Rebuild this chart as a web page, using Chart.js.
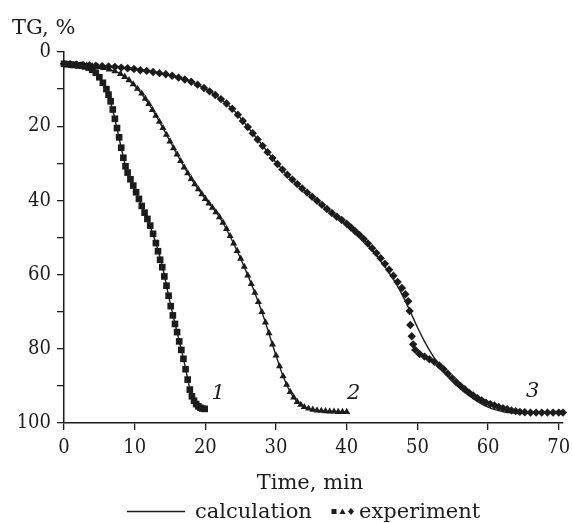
<!DOCTYPE html>
<html lang="en">
<head>
<meta charset="UTF-8">
<title>TG curves</title>
<script src="https://cdn.jsdelivr.net/npm/chart.js"></script>
<style>
  body { margin: 0; background: #fff; }
  #chart { display: block; }
</style>
</head>
<body>
<canvas id="chart" width="572" height="523"></canvas>
<script>
// experiment 1 (squares)
const t1 = [0,0.5,1,1.5,2,2.5,3,3.5,4,4.5,5,5.5,6,6.3,6.6,6.9,7.2,7.5,7.8,8.1,8.4,8.7,9,9.4,9.8,10.2,10.6,11,11.4,11.8,12.2,12.6,13,13.3,13.6,13.9,14.2,14.5,14.8,15.1,15.4,15.7,16,16.3,16.6,16.9,17.2,17.5,17.8,18.1,18.4,18.7,19,19.3,19.6,19.9];
const tg1 = [3.2,3.3,3.4,3.5,3.6,3.7,3.9,4.2,4.8,5.6,6.8,8.3,10,11.5,13.3,15.5,18,20.5,23,25.8,28.5,30.8,32.5,34.3,36,37.8,39.6,41.5,43.3,45,46.8,49,51.5,53.7,56,58,60.5,63,65.7,68.5,71,73.3,75.5,78,80.3,82.7,85.5,88.3,91,92.8,94,94.9,95.5,95.9,96.1,96.2];

// experiment 2 (triangles)
const t2 = [0,0.8,1.6,2.4,3.2,4,4.8,5.6,6.4,7.2,8,8.6,9.2,9.8,10.4,11,11.5,12,12.5,13,13.5,14,14.5,15,15.5,16,16.5,17,17.5,18,18.5,19,19.5,20,20.5,21,21.5,22,22.5,23,23.5,24,24.5,25,25.5,26,26.5,27,27.5,28,28.5,29,29.5,30,30.5,31,31.5,32,32.5,33,33.5,34,34.6,35.2,35.8,36.4,37,37.6,38.2,38.8,39.4,40];
const tg2 = [3.2,3.3,3.4,3.5,3.6,3.8,4.0,4.3,4.7,5.2,5.9,6.7,7.6,8.7,9.9,11.2,12.6,14,15.6,17.2,18.8,20.5,22.3,24.1,25.9,27.6,29.4,31.1,32.7,34.2,35.6,37,38.3,39.6,40.8,42,43.2,44.5,46,47.7,49.6,51.6,53.6,55.7,57.9,60.2,62.5,64.9,67.4,70.1,72.9,75.8,78.8,81.8,84.7,87.4,89.7,91.6,93.1,94.3,95.1,95.7,96.1,96.4,96.6,96.7,96.8,96.9,96.9,97,97,97];

// experiment 3 (diamonds)
const t3 = [0,0.9,1.8,2.7,3.6,4.5,5.4,6.3,7.2,8.1,9,9.9,10.8,11.7,12.6,13.5,14.4,15.3,16.2,17.1,18,18.9,19.8,20.6,21.4,22.2,23,23.8,24.6,25.3,26,26.7,27.4,28.1,28.8,29.5,30.2,30.9,31.6,32.3,33,33.7,34.4,35.1,35.8,36.5,37.2,37.9,38.6,39.3,40,40.6,41.2,41.8,42.4,43,43.6,44.2,44.8,45.4,46,46.6,47.2,47.8,48.3,48.7,48.9,49,49.2,49.4,49.7,50.3,51,51.7,52.4,53.1,53.7,54.3,54.9,55.5,56.1,56.7,57.3,57.9,58.5,59.1,59.7,60.3,60.9,61.5,62.1,62.7,63.3,63.9,64.5,65.2,66,66.8,67.6,68.4,69.2,70,70.6];
const tg3 = [3.2,3.3,3.4,3.5,3.6,3.7,3.8,3.9,4.0,4.2,4.4,4.6,4.9,5.1,5.4,5.7,6.0,6.4,6.9,7.4,8.0,8.8,9.7,10.6,11.6,12.7,13.9,15.3,16.9,18.6,20.2,21.9,23.6,25.3,27,28.6,30.2,31.7,33.1,34.4,35.6,36.8,37.9,39,40.1,41.2,42.3,43.4,44.4,45.3,46.3,47.3,48.3,49.3,50.4,51.6,52.9,54.2,55.6,57.1,58.7,60.3,62,63.6,65.3,67.2,69.8,73.6,76.6,78.8,80.3,81.4,82.1,82.8,83.5,84.5,85.5,86.7,87.9,89,90,90.9,91.8,92.6,93.3,93.9,94.5,94.9,95.3,95.7,96,96.3,96.6,96.8,97,97.1,97.2,97.2,97.2,97.2,97.2,97.2,97.2];

// calculation curves
const c1t = [0,2,3,4,5,6,7,8,9,10,11,12,13,14,15,16,17,18,19,19.9];
const c1tg = [3.2,3.6,3.9,4.8,6.8,10,16.5,25,33,37,41.5,46,51.5,58.5,67.5,75.5,83.5,92.3,95.5,96.2];
const c2t = [0,4,6,8,10,12,14,16,18,20,22,24,26,28,30,31,32,33,34,36,40];
const c2tg = [3.2,3.8,4.5,5.9,9.1,14,20.5,27.6,34.2,39.6,44.5,51.6,60.2,70.1,81.8,87.4,91.6,94.3,95.7,96.7,97];
const c3t = [0,5,10,15,18,20,22,24,26,28,30,32,34,36,38,40,42,44,45,46,47,48,49,50,51,52,53,54,55,56,57,58,59,60,61,62,63,64,66,70.6];
const c3tg = [3.2,3.8,4.6,6.3,8,9.9,12.4,15.7,20.2,25,29.8,33.9,37.3,40.5,43.6,46.5,49.9,54.2,56.8,59.5,62.5,66,70,74.2,78,81.3,84.2,86.6,88.7,90.6,92.2,93.6,94.8,95.7,96.4,96.9,97.2,97.3,97.4,97.4];

const xTicks = [0, 10, 20, 30, 40, 50, 60, 70];
const yTicks = [0, 10, 20, 30, 40, 50, 60, 70, 80, 90, 100];

const curveNames = ['1', '2', '3'];
const curveNameAt = [[21.8, 92], [41, 92], [66.3, 91.6]];

const INK = '#1c1c1c';
const TEXT_FONT = '"DejaVu Serif", serif';
const TICK_FONT = '"DejaVu Serif Condensed", "DejaVu Serif", serif';

function pts(xs, ys) {
  return xs.map((x, i) => ({ x: x, y: ys[i] }));
}

function calcLine(xs, ys) {
  return {
    data: pts(xs, ys), showLine: true, pointRadius: 0,
    borderColor: INK, borderWidth: 1.4,
    cubicInterpolationMode: 'monotone', clip: false
  };
}

function expSet(xs, ys, style, r) {
  return {
    data: pts(xs, ys), showLine: false, pointStyle: style,
    pointRadius: r, pointBorderWidth: 0,
    pointBackgroundColor: INK, pointBorderColor: INK, clip: false
  };
}

const overlay = {
  id: 'overlay',
  afterDraw(chart) {
    const ctx = chart.ctx;
    const xs = chart.scales.x, ys = chart.scales.y;
    ctx.save();
    ctx.fillStyle = INK;
    ctx.strokeStyle = INK;
    ctx.textBaseline = 'alphabetic';

    // axis titles
    ctx.font = '21px ' + TEXT_FONT;
    ctx.textAlign = 'left';
    ctx.fillText('TG, %', 12, 34);
    ctx.textAlign = 'center';
    ctx.fillText('Time, min', 310, 489);

    // curve numbers
    ctx.font = 'italic 21px ' + TEXT_FONT;
    ctx.textBaseline = 'middle';
    curveNames.forEach((n, i) => {
      ctx.fillText(n, xs.getPixelForValue(curveNameAt[i][0]), ys.getPixelForValue(curveNameAt[i][1]));
    });

    // legend
    ctx.textBaseline = 'alphabetic';
    ctx.lineWidth = 1.4;
    ctx.beginPath();
    ctx.moveTo(127, 511.5);
    ctx.lineTo(185, 511.5);
    ctx.stroke();
    ctx.font = '21px ' + TEXT_FONT;
    ctx.textAlign = 'left';
    ctx.fillText('calculation', 195, 518);
    ctx.fillRect(331.5, 509, 5, 5);
    ctx.beginPath();
    ctx.moveTo(342.5, 508.5);
    ctx.lineTo(345.5, 514);
    ctx.lineTo(339.5, 514);
    ctx.closePath();
    ctx.fill();
    ctx.beginPath();
    ctx.moveTo(351, 508);
    ctx.lineTo(354, 511.5);
    ctx.lineTo(351, 515);
    ctx.lineTo(348, 511.5);
    ctx.closePath();
    ctx.fill();
    ctx.fillText('experiment', 359, 518);
    ctx.restore();
  }
};

new Chart(document.getElementById('chart'), {
  type: 'scatter',
  data: {
    datasets: [
      calcLine(c1t, c1tg),
      calcLine(c2t, c2tg),
      calcLine(c3t, c3tg),
      expSet(t1, tg1, 'rect', 4.7),
      expSet(t2, tg2, 'triangle', 4.1),
      expSet(t3, tg3, 'rectRot', 4.2)
    ]
  },
  options: {
    responsive: false,
    animation: false,
    layout: { padding: { top: 52, right: 9, left: 0, bottom: 0 } },
    plugins: { legend: { display: false }, tooltip: { enabled: false } },
    scales: {
      x: {
        type: 'linear', min: 0, max: 70.6,
        afterFit(s) { s.height = 100; s.paddingLeft = 0; s.paddingRight = 0; },
        afterBuildTicks(s) { s.ticks = xTicks.map(v => ({ value: v })); },
        ticks: { color: INK, padding: 6, maxRotation: 0, autoSkip: false,
                 font: { family: TICK_FONT, size: 20 } },
        grid: { drawOnChartArea: false, tickLength: 7, color: INK, lineWidth: 1.3 },
        border: { color: INK, width: 1.5 }
      },
      y: {
        type: 'linear', min: 0, max: 100, reverse: true,
        afterFit(s) { s.width = 64; s.paddingTop = 0; s.paddingBottom = 0; },
        afterBuildTicks(s) { s.ticks = yTicks.map(v => ({ value: v })); },
        ticks: { color: INK, padding: 6, autoSkip: false,
                 font: { family: TICK_FONT, size: 20 },
                 callback: v => (v % 20 === 0 ? v : '') },
        grid: { drawOnChartArea: false, tickLength: 7, color: INK, lineWidth: 1.3 },
        border: { color: INK, width: 1.5 }
      }
    }
  },
  plugins: [overlay]
});
</script>
</body>
</html>
